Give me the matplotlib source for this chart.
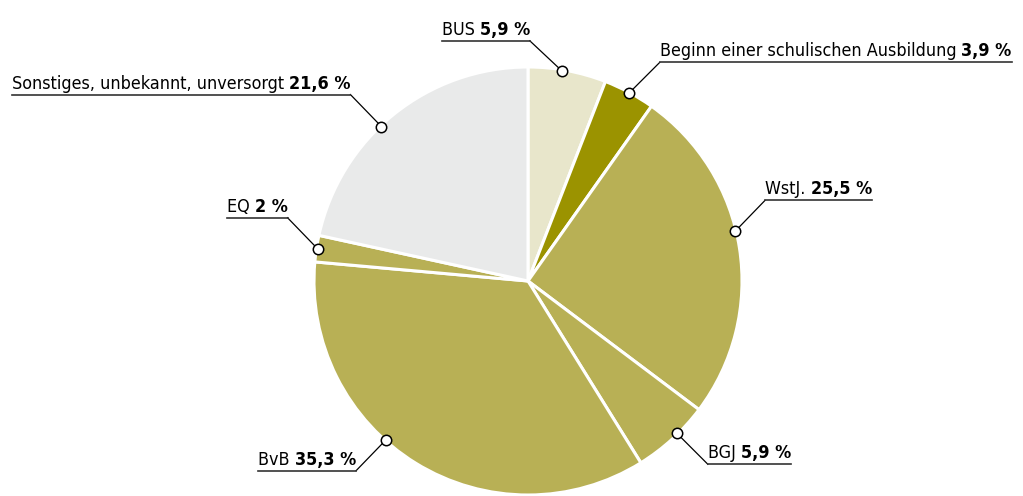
import matplotlib
matplotlib.use("Agg")
import numpy as np
from matplotlib import pyplot as plt

labels = ['BUS', 'Beginn einer schulischen Ausbildung', 'WstJ.', 'BGJ', 'BvB', 'EQ',
          'Sonstiges, unbekannt, unversorgt']
values = [5.9, 3.9, 25.5, 5.9, 35.3, 2.0, 21.6]
value_text = ['5,9 %', '3,9 %', '25,5 %', '5,9 %', '35,3 %', '2 %', '21,6 %']
colors = ['#e8e6cb', '#9b9300', '#b8b055', '#b8b055', '#b8b055', '#b8b055', '#e9eaea']

# where along each wedge (clockwise fraction) the marker sits, and leader offset in px
anchor_frac = [0.43, 0.5, 0.45, 0.41, 0.58, 0.5, 0.44]
leader = [(-32, 30), (31, 31), (30, 31), (31, -31), (-30, -31), (-30, 31), (-31, 32)]

W, H = 1023, 496
plt.rcParams['font.family'] = ['DejaVu Sans']
plt.rcParams['font.stretch'] = 'condensed'
fs = 12.9

fig = plt.figure(figsize=(W / 100, H / 100), dpi=100)
ax = fig.add_axes([0, 0, 1, 1])

cx, cy, r = 528, 215, 214
wedges, _ = ax.pie(values, colors=colors, startangle=90, counterclock=False,
                   center=(cx, cy), radius=r, frame=True,
                   wedgeprops=dict(edgecolor='white', linewidth=2.2))
ax.set_xlim(0, W)
ax.set_ylim(0, H)
ax.set_aspect('equal')
ax.axis('off')

renderer = fig.canvas.get_renderer()
for w, name, val, f, (dx, dy) in zip(wedges, labels, value_text, anchor_frac, leader):
    ang = np.deg2rad(w.theta2 - f * (w.theta2 - w.theta1))
    mx = cx + 0.995 * r * np.cos(ang)
    my = cy + 0.995 * r * np.sin(ang)
    ex, ey = mx + dx, my + dy
    ax.plot([mx, ex], [my, ey], color='black', lw=0.9, zorder=4)
    ax.plot(mx, my, 'o', ms=7.5, mfc='white', mec='black', mew=1.1, zorder=5)
    ty = ey + 6
    if dx > 0:
        t1 = ax.text(ex, ty, name + ' ', ha='left', va='baseline', fontsize=fs,
                     fontstretch='condensed')
        bb = t1.get_window_extent(renderer)
        t2 = ax.text(bb.x1, ty, val, ha='left', va='baseline', fontsize=fs,
                     fontweight='bold', fontstretch='condensed')
        bb2 = t2.get_window_extent(renderer)
        x0, x1 = ex, bb2.x1
    else:
        t2 = ax.text(ex, ty, val, ha='right', va='baseline', fontsize=fs,
                     fontweight='bold', fontstretch='condensed')
        bb2 = t2.get_window_extent(renderer)
        t1 = ax.text(bb2.x0, ty, name + ' ', ha='right', va='baseline', fontsize=fs,
                     fontstretch='condensed')
        bb = t1.get_window_extent(renderer)
        x0, x1 = bb.x0, ex
    ax.plot([x0, x1], [ey, ey], color='#333333', lw=1.2, zorder=4)

fig.savefig('out.png', dpi=100, facecolor='white')
